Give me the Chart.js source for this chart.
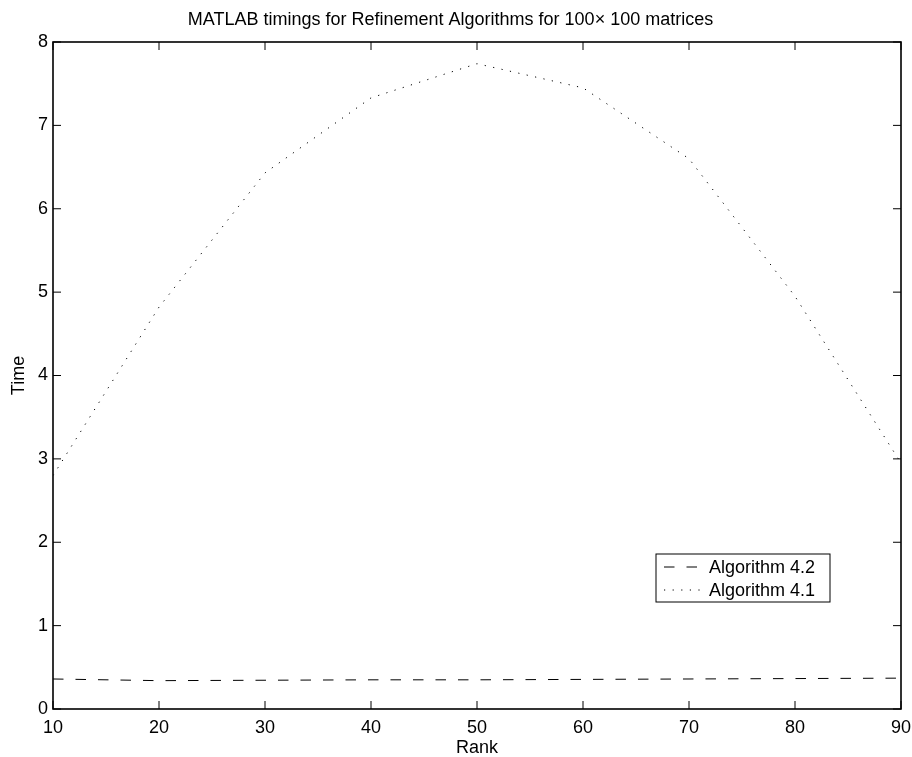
<!DOCTYPE html>
<html>
<head>
<meta charset="utf-8">
<script src="https://cdn.jsdelivr.net/npm/chart.js@4/dist/chart.umd.min.js"></script>
<style>
    html, body { margin: 0; padding: 0; background: #fff; }
    #wrap { width: 912px; height: 757px; position: relative; }
</style>
</head>
<body>
<div id="wrap"><canvas id="chart"></canvas></div>
<script>
// Data
const ranks = [10, 20, 30, 40, 50, 60, 70, 80, 90];
const alg42 = [0.36, 0.34, 0.345, 0.35, 0.35, 0.355, 0.36, 0.365, 0.37];
const alg41 = [2.8, 4.82, 6.43, 7.33, 7.74, 7.45, 6.6, 4.95, 2.95];
const seriesNames = ['Algorithm 4.2', 'Algorithm 4.1'];
const titleText = 'MATLAB timings for Refinement Algorithms for 100\u00d7 100 matrices';

const fontFamily = '"Liberation Sans", Arial, Helvetica, sans-serif';
const dashPattern = [10.5, 12];
const dotPattern = [1.2, 7.4];

// MATLAB style box with inward ticks on all sides
const boxPlugin = {
    id: 'matlabBox',
    afterDraw(chart) {
        const ctx = chart.ctx;
        const a = chart.chartArea;
        const xs = chart.scales.x;
        const ys = chart.scales.y;
        const tl = 8;
        ctx.save();
        ctx.strokeStyle = '#000';
        ctx.lineWidth = 1;
        ctx.beginPath();
        xs.ticks.forEach(t => {
            const px = xs.getPixelForValue(t.value);
            ctx.moveTo(px, a.bottom); ctx.lineTo(px, a.bottom - tl);
            ctx.moveTo(px, a.top); ctx.lineTo(px, a.top + tl);
        });
        ys.ticks.forEach(t => {
            const py = ys.getPixelForValue(t.value);
            ctx.moveTo(a.left, py); ctx.lineTo(a.left + tl, py);
            ctx.moveTo(a.right, py); ctx.lineTo(a.right - tl, py);
        });
        ctx.stroke();
        ctx.lineWidth = 1.6;
        ctx.strokeRect(a.left, a.top, a.right - a.left, a.bottom - a.top);

        // legend inside the axes
        const bx = a.left + 603, by = a.top + 512, bw = 174, bh = 48;
        ctx.lineWidth = 1;
        ctx.fillStyle = '#fff';
        ctx.fillRect(bx, by, bw, bh);
        ctx.strokeRect(bx, by, bw, bh);
        ctx.font = '18px ' + fontFamily;
        ctx.fillStyle = '#000';
        ctx.textBaseline = 'middle';
        chart.data.datasets.forEach((ds, i) => {
            const ry = by + 13 + i * 23;
            ctx.setLineDash(ds.borderDash);
            ctx.lineWidth = 1;
            ctx.beginPath();
            ctx.moveTo(bx + 8, ry);
            ctx.lineTo(bx + 45, ry);
            ctx.stroke();
            ctx.setLineDash([]);
            ctx.fillText(ds.label, bx + 53, ry + 1);
        });
        ctx.restore();
    }
};

const ctx = document.getElementById('chart').getContext('2d');
new Chart(ctx, {
    type: 'line',
    data: {
        labels: ranks,
        datasets: [{
            label: seriesNames[0],
            data: ranks.map((r, i) => ({ x: r, y: alg42[i] })),
            borderColor: '#000',
            borderWidth: 1,
            borderDash: dashPattern,
            pointRadius: 0,
            tension: 0,
            fill: false
        }, {
            label: seriesNames[1],
            data: ranks.map((r, i) => ({ x: r, y: alg41[i] })),
            borderColor: '#000',
            borderWidth: 1,
            borderDash: dotPattern,
            pointRadius: 0,
            tension: 0,
            fill: false
        }]
    },
    options: {
        responsive: true,
        maintainAspectRatio: false,
        animation: false,
        layout: { padding: { left: 0, right: 11, top: 0, bottom: 0 } },
        plugins: {
            legend: { display: false },
            tooltip: { enabled: false },
            title: {
                display: true,
                text: titleText,
                color: '#000',
                font: { family: fontFamily, size: 18, weight: 'normal', lineHeight: 1.2 },
                padding: { top: 9, bottom: 11.4 }
            }
        },
        scales: {
            x: {
                type: 'linear',
                min: 10,
                max: 90,
                afterFit: s => { s.height = 48; s.paddingLeft = 0; s.paddingRight = 0; },
                grid: { display: false, drawTicks: false },
                border: { display: false },
                ticks: {
                    stepSize: 10,
                    padding: 8,
                    color: '#000',
                    maxRotation: 0,
                    font: { family: fontFamily, size: 18 }
                },
                title: {
                    display: true,
                    text: 'Rank',
                    color: '#000',
                    font: { family: fontFamily, size: 18, lineHeight: 1 },
                    padding: { top: 0, bottom: 0 }
                }
            },
            y: {
                min: 0,
                max: 8,
                afterFit: s => { s.width = 53; s.paddingTop = 0; s.paddingBottom = 0; },
                grid: { display: false, drawTicks: false },
                border: { display: false },
                ticks: {
                    stepSize: 1,
                    padding: 5,
                    color: '#000',
                    font: { family: fontFamily, size: 18 }
                },
                title: {
                    display: true,
                    text: 'Time',
                    color: '#000',
                    font: { family: fontFamily, size: 18, lineHeight: 1 },
                    padding: { top: 10, bottom: 0 }
                }
            }
        }
    },
    plugins: [boxPlugin]
});
</script>
</body>
</html>
